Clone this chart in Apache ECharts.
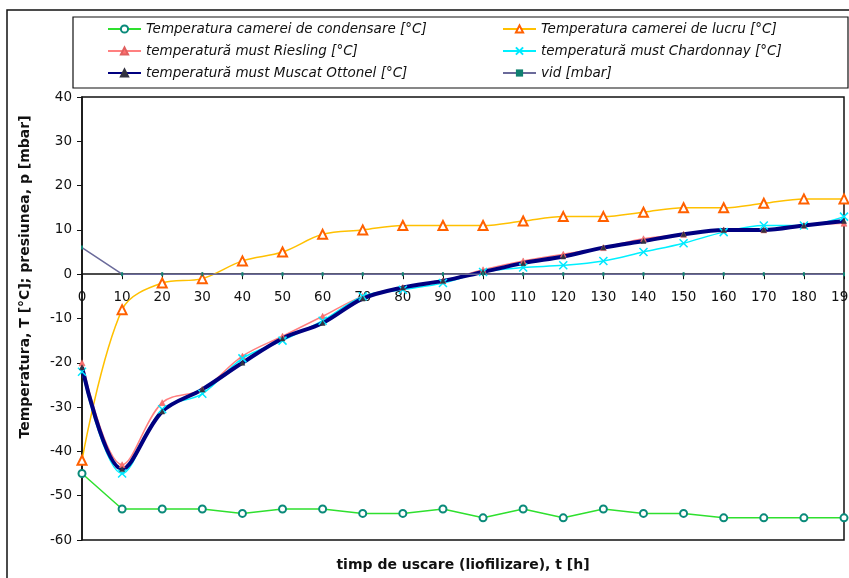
<!DOCTYPE html>
<html>
<head>
<meta charset="utf-8">
<script src="https://cdn.jsdelivr.net/npm/echarts@6/dist/echarts.min.js"></script>
<style>
  html, body { margin: 0; padding: 0; background: #fff; }
  #chart { width: 849px; height: 578px; }
</style>
</head>
<body>
<div id="chart"></div>
<script>
// Drying (lyophilisation) time, hours
const hours = [0, 10, 20, 30, 40, 50, 60, 70, 80, 90, 100, 110, 120, 130, 140, 150, 160, 170, 180, 190];

// Temperatures [°C] and vacuum [mbar]
const condensare = [-45, -53, -53, -53, -54, -53, -53, -54, -54, -53, -55, -53, -55, -53, -54, -54, -55, -55, -55, -55];
const lucru      = [-42, -8, -2, -1, 3, 5, 9, 10, 11, 11, 11, 12, 13, 13, 14, 15, 15, 16, 17, 17];
const riesling   = [-20, -43, -29, -26, -18.5, -14, -9.5, -5, -3, -1.5, 1, 3, 4.5, 6, 8, 9, 10, 10, 11, 11.5];
const chardonnay = [-22, -45, -30.5, -27, -19, -15, -10.5, -5, -3.5, -2, 0.5, 1.5, 2, 3, 5, 7, 9.5, 11, 11, 13];
const muscat     = [-21, -44, -31, -26, -20, -14.5, -11, -5.5, -3, -1.5, 0.5, 2.5, 4, 6, 7.5, 9, 10, 10, 11, 12];
const vid        = [6, 0, 0, 0, 0, 0, 0, 0, 0, 0, 0, 0, 0, 0, 0, 0, 0, 0, 0, 0];

const names = {
  condensare: 'Temperatura camerei de condensare [°C]',
  lucru: 'Temperatura camerei de lucru [°C]',
  riesling: 'temperatură must Riesling [°C]',
  chardonnay: 'temperatură must Chardonnay [°C]',
  muscat: 'temperatură must Muscat Ottonel [°C]',
  vid: 'vid [mbar]'
};

const pairs = vals => hours.map((h, i) => [h, vals[i]]);
const FONT = 'DejaVu Sans';
const crossPath = 'path://M0,0L10,10M10,0L0,10';

// plot box and value range of the temperature / pressure axis
const W = 849, H = 578;
const gridTop = 97, gridBottom = 38;
const yMin = -60, yMax = 40;
const plotH = H - gridTop - gridBottom;
// the time axis sits on the zero line of the value axis
const zeroOffset = -plotH * (0 - yMin) / (yMax - yMin);

const chart = echarts.init(document.getElementById('chart'), null, { renderer: 'canvas' });

const legendText = { fontFamily: FONT, fontSize: 13.5, fontStyle: 'italic', color: '#111' };

chart.setOption({
  animation: false,
  backgroundColor: '#fff',
  grid: {
    left: 82, right: 5, top: gridTop, bottom: gridBottom,
    outerBoundsMode: 'none', containLabel: false,
    show: true, borderColor: '#111', borderWidth: 1.5, backgroundColor: 'transparent'
  },
  legend: [
    {
      orient: 'vertical', left: 102, top: 17, itemWidth: 33, itemHeight: 9, itemGap: 8,
      textStyle: legendText,
      data: [names.condensare, names.riesling, names.muscat]
    },
    {
      orient: 'vertical', left: 497, top: 17, itemWidth: 33, itemHeight: 9, itemGap: 8,
      textStyle: legendText,
      data: [names.lucru, names.chardonnay, names.vid]
    }
  ],
  xAxis: {
    type: 'value', min: 0, max: 190, interval: 10,
    position: 'bottom', offset: zeroOffset,
    axisLine: { onZero: false, lineStyle: { color: '#111', width: 1.5 } },
    axisTick: { show: true, inside: false, length: 5, lineStyle: { color: '#111' } },
    axisLabel: { margin: 16, fontFamily: FONT, fontSize: 13.5, color: '#111' },
    splitLine: { show: false }
  },
  yAxis: {
    type: 'value', min: yMin, max: yMax, interval: 10,
    axisLine: { show: true, onZero: false, lineStyle: { color: '#111', width: 1.5 } },
    axisTick: { show: true, inside: false, length: 5, lineStyle: { color: '#111' } },
    axisLabel: { margin: 10, fontFamily: FONT, fontSize: 13.5, color: '#111' },
    splitLine: { show: false }
  },
  series: [
    {
      name: names.condensare, type: 'line', data: pairs(condensare),
      lineStyle: { color: '#2ee02e', width: 1.5 },
      symbol: 'emptyCircle', symbolSize: 7,
      itemStyle: { color: '#0a8a7a', borderWidth: 1.5 }
    },
    {
      name: names.lucru, type: 'line', smooth: 0.35, data: pairs(lucru),
      lineStyle: { color: '#ffc000', width: 1.5 },
      symbol: 'emptyTriangle', symbolSize: 9,
      itemStyle: { color: '#ff6000', borderWidth: 1.5 }
    },
    {
      name: names.riesling, type: 'line', smooth: 0.35, data: pairs(riesling),
      lineStyle: { color: '#ff8080', width: 1.5 },
      symbol: 'triangle', symbolSize: 6,
      itemStyle: { color: '#ff7070', borderColor: '#e06060', borderWidth: 0.5 }
    },
    {
      name: names.chardonnay, type: 'line', smooth: 0.35, data: pairs(chardonnay),
      lineStyle: { color: '#00f0ff', width: 1.5 },
      symbol: crossPath, symbolSize: 8,
      itemStyle: { color: 'none', borderColor: '#00e8ff', borderWidth: 1.5 }
    },
    {
      name: names.muscat, type: 'line', smooth: 0.35, data: pairs(muscat),
      lineStyle: { color: '#000080', width: 4 },
      symbol: 'triangle', symbolSize: 5,
      itemStyle: { color: '#333340', borderColor: '#333340', borderWidth: 0.5 }
    },
    {
      name: names.vid, type: 'line', data: pairs(vid),
      lineStyle: { color: '#6a6a9a', width: 1.5 },
      symbol: 'rect', symbolSize: [2, 4],
      itemStyle: { color: '#108070' }
    }
  ],
  graphic: [
    {
      type: 'rect', silent: true, z: -1,
      shape: { x: 7, y: 10, width: 860, height: 590 },
      style: { fill: 'none', stroke: '#111', lineWidth: 1.5 }
    },
    {
      type: 'rect', silent: true, z: -1,
      shape: { x: 73, y: 17, width: 775, height: 71 },
      style: { fill: 'none', stroke: '#111', lineWidth: 1.2 }
    },
    {
      type: 'text', silent: true,
      x: 25, y: 277, rotation: Math.PI / 2,
      style: {
        text: 'Temperatura, T [°C]; presiunea, p [mbar]',
        font: 'bold 14px "DejaVu Sans"', fill: '#111',
        textAlign: 'center', textVerticalAlign: 'middle'
      }
    },
    {
      type: 'text', silent: true,
      x: 463, y: 565,
      style: {
        text: 'timp de uscare (liofilizare), t [h]',
        font: 'bold 14px "DejaVu Sans"', fill: '#111',
        textAlign: 'center', textVerticalAlign: 'middle'
      }
    }
  ]
});
</script>
</body>
</html>
